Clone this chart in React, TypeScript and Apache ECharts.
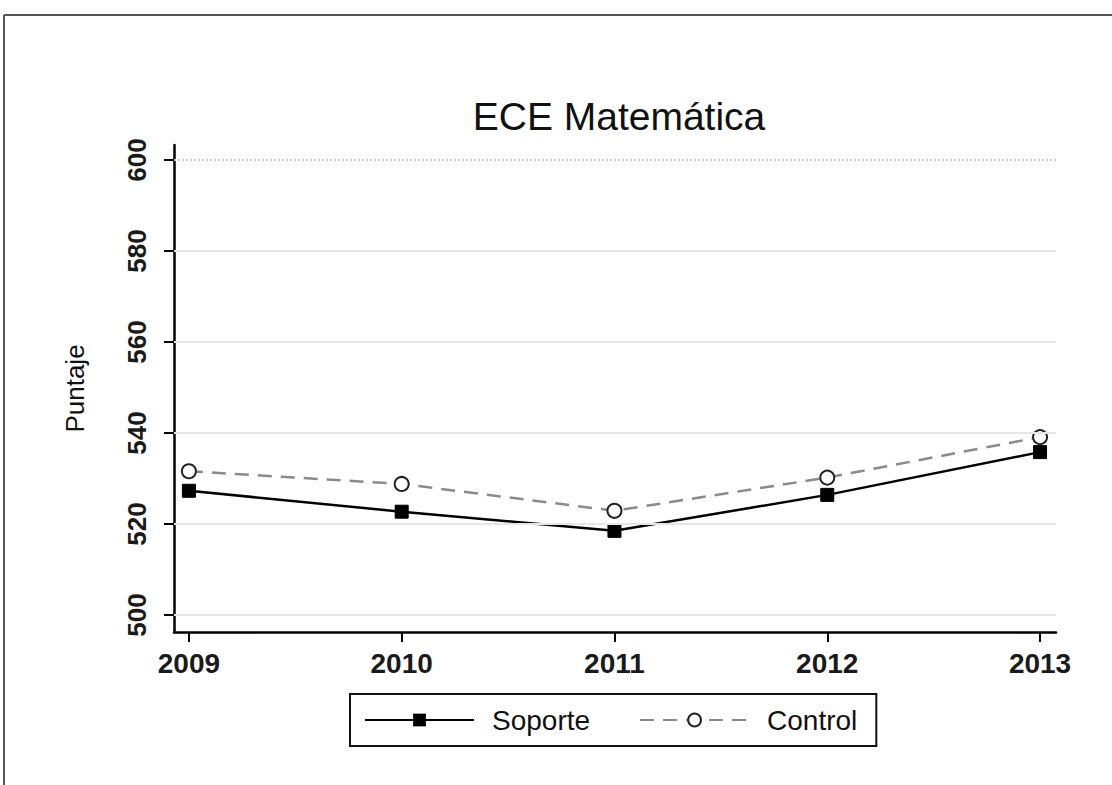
import React, { useEffect, useRef } from "react";
import * as echarts from "echarts";

const years = [2009, 2010, 2011, 2012, 2013];
const soporte = [527.3, 522.7, 518.5, 526.4, 535.8];
const control = [531.6, 528.8, 522.9, 530.2, 539.1];
const yTicks = [500, 520, 540, 560, 580, 600];
const seriesNames = ["Soporte", "Control"];
const titleText = "ECE Matemática";
const yName = "Puntaje";

export default function App() {
  const ref = useRef<HTMLDivElement>(null);
  useEffect(() => {
    if (!ref.current) return;
    const chart = echarts.init(ref.current, null, { renderer: "svg" });
    const font = "Liberation Sans, Arial, sans-serif";
    chart.setOption({
      animation: false,
      backgroundColor: "#ffffff",
      textStyle: { fontFamily: font },
      title: {
        text: titleText,
        left: 614,
        textAlign: "center",
        top: 92,
        textStyle: { fontSize: 39, fontWeight: "normal", color: "#111", fontFamily: font },
      },
      grid: { left: 174, right: 56, top: 145, bottom: 153, containLabel: false },
      legend: {
        left: 350,
        top: 694,
        orient: "horizontal",
        itemWidth: 109,
        itemHeight: 16,
        itemGap: 49,
        padding: [12, 19, 12, 14],
        borderColor: "#111",
        borderWidth: 2,
        textStyle: { fontSize: 28, color: "#111", padding: [0, 0, 0, 13], fontFamily: font },
        data: seriesNames,
      },
      xAxis: {
        type: "value",
        min: 2008.93,
        max: 2013.075,
        axisLine: { onZero: false, lineStyle: { color: "#000", width: 2.5 } },
        axisTick: { customValues: years, length: 10, lineStyle: { color: "#000", width: 2 } },
        axisLabel: {
          customValues: years,
          fontSize: 28,
          fontWeight: "bold",
          color: "#1a1a1a",
          margin: 17,
          formatter: (v: number) => String(v),
        },
        splitLine: { show: false },
      },
      yAxis: {
        type: "value",
        min: 496.26,
        max: 603.3,
        name: yName,
        nameLocation: "middle",
        nameRotate: 90,
        nameGap: 86,
        nameTextStyle: { fontSize: 26, color: "#111", fontFamily: font },
        axisLine: { show: true, lineStyle: { color: "#000", width: 2.5 } },
        axisTick: { show: true, customValues: yTicks, length: 10, lineStyle: { color: "#000", width: 2 } },
        axisLabel: {
          customValues: yTicks,
          rotate: 90,
          fontSize: 26,
          fontWeight: "bold",
          color: "#1a1a1a",
          margin: 24,
        },
        splitLine: { show: false },
      },
      series: [
        {
          name: "grid",
          type: "line",
          data: [],
          z: 1,
          silent: true,
          markLine: {
            silent: true,
            symbol: ["none", "none"],
            label: { show: false },
            data: yTicks.map((v) => ({
              yAxis: v,
              lineStyle: {
                color: v === 600 ? "#cfcfcf" : "#e6e6e6",
                width: 2,
                type: v === 600 ? "dotted" : "solid",
              },
            })),
          },
        },
        {
          name: seriesNames[0],
          type: "line",
          z: 3,
          data: years.map((y, i) => [y, soporte[i]]),
          symbol: "rect",
          symbolSize: 13,
          itemStyle: { color: "#000", borderColor: "#000" },
          lineStyle: { color: "#000", width: 2.5, type: "solid" },
        },
        {
          name: seriesNames[1],
          type: "line",
          z: 3,
          data: years.map((y, i) => [y, control[i]]),
          symbol: "circle",
          symbolSize: 14,
          itemStyle: { color: "#ffffff", borderColor: "#222", borderWidth: 2 },
          lineStyle: { color: "#8a8a8a", width: 2.5, type: [14, 9] },
        },
      ],
      graphic: [
        { type: "line", shape: { x1: 4, y1: 15, x2: 1112, y2: 15 }, style: { stroke: "#555", lineWidth: 2 } },
        { type: "line", shape: { x1: 4, y1: 15, x2: 4, y2: 785 }, style: { stroke: "#555", lineWidth: 2 } },
      ],
    });
    return () => chart.dispose();
  }, []);
  return (
    <div
      ref={ref}
      style={{ position: "fixed", left: 0, top: 0, width: 1112, height: 785 }}
    />
  );
}
